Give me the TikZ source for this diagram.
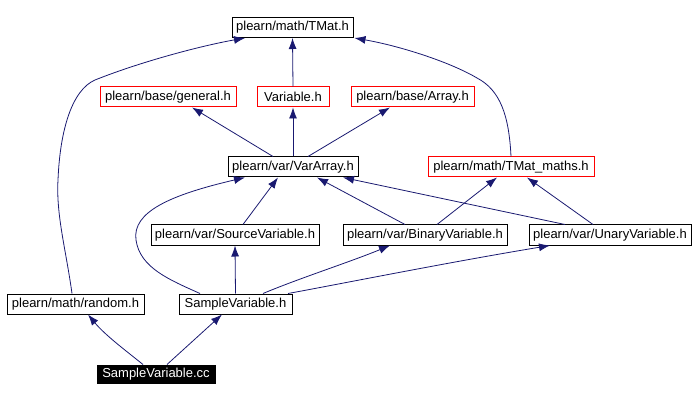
\documentclass[tikz,border=0pt]{standalone}
\usepackage{fontspec}
\setmainfont{Liberation Sans}
\usetikzlibrary{arrows.meta}
\definecolor{edgecol}{HTML}{191970}
\tikzset{
  box/.style={draw=black, line width=1pt, minimum height=20pt, inner sep=0pt, font=\fontsize{13}{15}\selectfont},
  redbox/.style={box, draw=red},
  edge/.style={draw=edgecol, line width=0.8pt, -{Latex[length=11pt,width=8pt]}},
}
\begin{document}
\begin{tikzpicture}[x=1pt,y=-1pt]
\useasboundingbox (0,0) rectangle (694,401);
\node[box, minimum width=121pt] (tmat) at (292.5,27.5) {plearn/math/TMat.h};
\node[redbox, minimum width=136pt] (general) at (168,97) {plearn/base/general.h};
\node[redbox, minimum width=72pt] (variable) at (293,97) {Variable.h};
\node[redbox, minimum width=123pt] (array) at (412.5,97) {plearn/base/Array.h};
\node[box, minimum width=130pt] (vararray) at (293,167) {plearn/var/VarArray.h};
\node[redbox, minimum width=166pt] (tmatmaths) at (511,167) {plearn/math/TMat\_maths.h};
\node[box, minimum width=168pt] (source) at (235,235) {plearn/var/SourceVariable.h};
\node[box, minimum width=164pt] (binary) at (425,235) {plearn/var/BinaryVariable.h};
\node[box, minimum width=162pt] (unary) at (610,235) {plearn/var/UnaryVariable.h};
\node[box, minimum width=137pt] (random) at (75.5,304) {plearn/math/random.h};
\node[box, minimum width=113pt] (sampleh) at (235.5,304) {SampleVariable.h};
\node[box, fill=black, text=white, minimum width=118pt, minimum height=18pt] (samplecc) at (156,374) {SampleVariable.cc};

\draw[edge] ([xshift=-20pt]vararray.north) -- ([xshift=24pt]general.south);
\draw[edge] (vararray.north) -- (variable.south);
\draw[edge] ([xshift=15pt]vararray.north) -- ([xshift=-22.5pt]array.south);
\draw[edge] (variable.north) -- (tmat.south);
\draw[edge] ([xshift=-3.5pt]random.north) .. controls (66,250) and (56,215) .. (58,180)
  .. controls (60,130) and (72,90) .. (95,80) .. controls (140,62) and (200,46) .. ([xshift=-47.5pt]tmat.south);
\draw[edge] (tmatmaths.north) .. controls (509,115) and (500,90) .. (477,78)
  .. controls (450,62) and (400,46) .. ([xshift=62pt]tmat.south);
\draw[edge] ([xshift=8pt]source.north) -- ([xshift=-15pt]vararray.south);
\draw[edge] ([xshift=-35.5pt]sampleh.north) .. controls (170,280) and (140,268) .. (136,240)
  .. controls (132,212) and (170,195) .. ([xshift=-48pt]vararray.south);
\draw[edge] ([xshift=-20pt]binary.north) -- ([xshift=24pt]vararray.south);
\draw[edge] ([xshift=-45pt]unary.north) -- ([xshift=50pt]vararray.south);
\draw[edge] ([xshift=12pt]binary.north) -- ([xshift=-14pt]tmatmaths.south);
\draw[edge] ([xshift=-17pt]unary.north) -- ([xshift=16pt]tmatmaths.south);
\draw[edge] (sampleh.north) -- (source.south);
\draw[edge] ([xshift=27.5pt]sampleh.north) .. controls (300,278) and (350,262) .. ([xshift=-35pt]binary.south);
\draw[edge] ([xshift=52.5pt]sampleh.north) .. controls (340,284) and (450,262) .. ([xshift=-60pt]unary.south);
\draw[edge] ([xshift=-13pt]samplecc.north) .. controls (125,350) and (105,335) .. ([xshift=12.5pt]random.south);
\draw[edge] ([xshift=11pt]samplecc.north) -- ([xshift=-13.5pt]sampleh.south);
\end{tikzpicture}
\end{document}
